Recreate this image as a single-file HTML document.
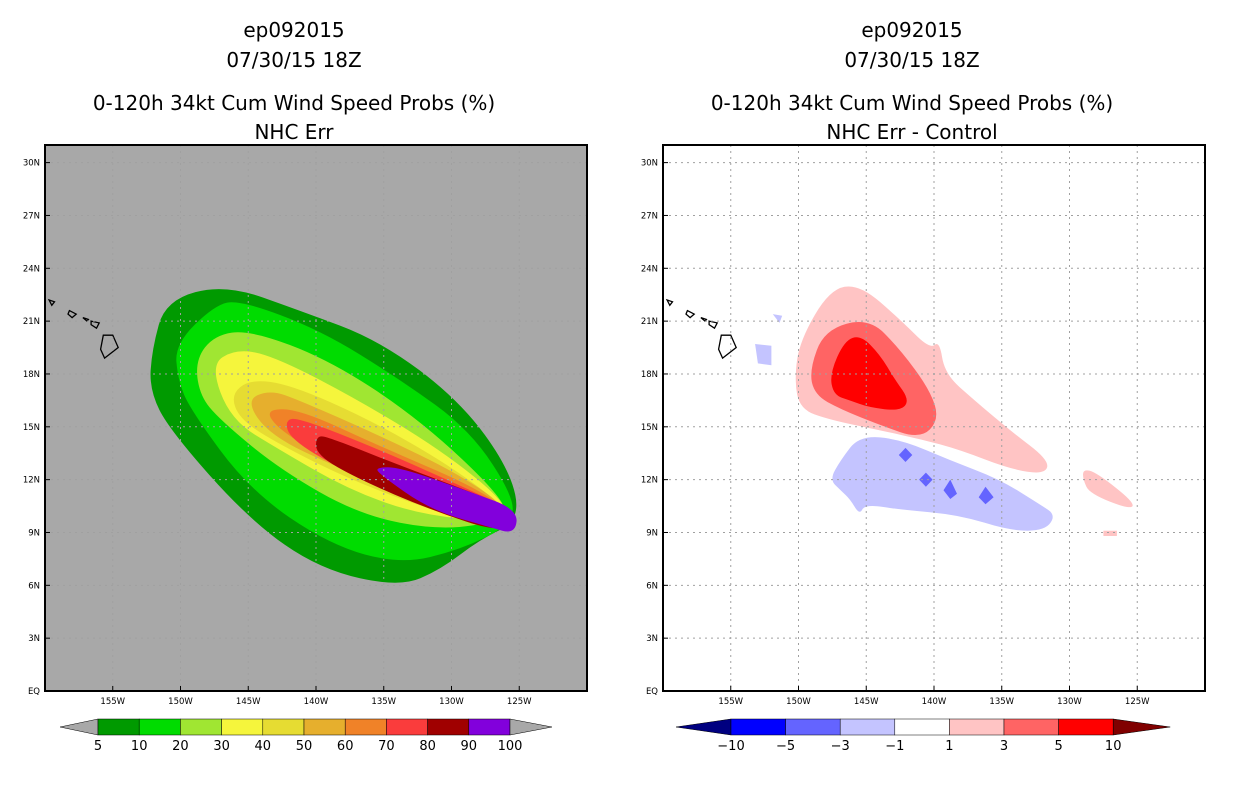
<!DOCTYPE html>
<html><head><meta charset="utf-8"><style>
body{margin:0;background:#fff;width:1236px;height:800px;overflow:hidden;font-family:"DejaVu Sans","Liberation Sans",sans-serif}
svg text{font-family:"DejaVu Sans","Liberation Sans",sans-serif}
</style></head><body>
<svg id="svg" width="1236" height="800" xmlns="http://www.w3.org/2000/svg"></svg>
<script>
const latTicks=[30,27,24,21,18,15,12,9,6,3,0];
const latLabels=["30N","27N","24N","21N","18N","15N","12N","9N","6N","3N","EQ"];
const lonTicks=[-155,-150,-145,-140,-135,-130,-125];
const lonLabels=["155W","150W","145W","140W","135W","130W","125W"];
const leftLevels=["5","10","20","30","40","50","60","70","80","90","100"];
const leftColors=["#009a00","#00dc00","#a0e632","#f5f53c","#e6dc32","#e6af2d","#f08228","#fa3c3c","#a00000","#8200dc"];
const leftContours=[
[[-152.1,19.4],[-151.1,22.2],[-146.7,23.1],[-141.2,21.6],[-135.3,19.9],[-129.4,16.5],[-125.7,12.6],[-124.9,9.7],[-127.9,8.6],[-130.8,6.9],[-133.8,5.9],[-139.7,6.9],[-144.9,9.7],[-150.8,14.8],[-152.3,17.1]],
[[-150.4,19.7],[-147.5,21.9],[-145.6,22.2],[-139.7,20.5],[-133.8,17.7],[-128.6,14.8],[-125.3,10.9],[-125.7,9.4],[-129.4,8.0],[-133.8,7.2],[-139.0,8.3],[-144.9,11.4],[-149.3,16.0],[-150.2,17.7]],
[[-148.9,18.8],[-147.5,20.2],[-144.9,20.5],[-139.0,18.8],[-132.3,15.4],[-126.1,10.9],[-126.1,9.7],[-130.8,9.1],[-136.8,10.0],[-142.7,12.6],[-147.1,15.4],[-148.6,16.8]],
[[-147.8,18.5],[-146.0,19.4],[-143.4,19.1],[-137.5,16.8],[-130.8,13.7],[-125.8,10.6],[-126.4,9.6],[-132.3,10.0],[-137.5,11.4],[-142.7,13.7],[-146.3,15.4]],
[[-146.3,16.8],[-144.9,17.7],[-141.9,17.4],[-136.0,15.4],[-130.1,12.8],[-125.8,10.3],[-127.2,9.4],[-131.6,10.3],[-137.5,12.0],[-142.7,14.0],[-145.6,15.4]],
[[-145.2,16.5],[-143.4,17.1],[-141.2,16.5],[-135.3,14.5],[-129.4,12.3],[-125.7,10.3],[-127.2,9.3],[-132.3,10.9],[-138.2,12.6],[-143.4,14.5]],
[[-143.8,16.0],[-141.2,16.0],[-135.3,13.9],[-128.6,11.7],[-125.7,10.2],[-126.8,9.3],[-132.3,10.9],[-139.0,13.1],[-142.7,14.8]],
[[-142.3,15.4],[-141.2,15.5],[-135.3,13.7],[-128.6,11.4],[-125.3,10.2],[-126.4,8.9],[-132.3,10.6],[-138.2,12.6],[-141.9,14.3]],
[[-140.0,14.5],[-139.0,14.4],[-133.8,12.8],[-127.9,11.1],[-125.1,10.2],[-126.1,8.9],[-131.6,10.3],[-136.8,12.0],[-140.0,13.4]],
[[-135.6,12.7],[-133.8,12.7],[-128.6,11.3],[-125.1,10.3],[-125.3,8.9],[-127.2,9.3],[-131.6,10.3],[-135.3,12.3]]
];
const rightLevels=["-10","-5","-3","-1","1","3","5","10"];
const rightColors=["#000080","#0000ff","#6464ff","#c4c4ff","#ffffff","#ffc4c4","#ff6464","#ff0000","#800000"];
const rightContourColors=["#ffc4c4","#ffc4c4","#ffc4c4","#ff6464","#ff0000","#c4c4ff","#c4c4ff","#c4c4ff","#6464ff","#6464ff","#6464ff","#6464ff"];
const rightContours=[
[[-149.9,19.9],[-147.7,22.8],[-145.5,23.1],[-142.5,21.1],[-140.3,19.4],[-139.6,19.9],[-139.2,18.0],[-137.0,16.5],[-134.4,14.8],[-131.5,13.1],[-131.8,12.3],[-134.4,12.6],[-138.1,13.7],[-141.0,14.3],[-144.0,14.8],[-147.7,15.4],[-149.9,16.0],[-150.3,17.7]],
[[-129.0,12.6],[-128.0,12.4],[-125.2,10.7],[-125.5,10.3],[-128.5,11.2],[-129.0,12.0]],
[[-127.5,9.1],[-126.5,9.1],[-126.5,8.8],[-127.5,8.8]],
[[-149.2,18.2],[-148.1,20.5],[-144.8,21.2],[-142.5,19.4],[-140.3,17.1],[-139.6,15.4],[-141.0,14.3],[-144.0,15.1],[-146.9,16.0],[-148.8,16.8]],
[[-147.7,18.0],[-146.6,19.9],[-145.4,20.2],[-144.0,19.1],[-142.9,17.7],[-141.8,16.5],[-142.5,15.9],[-144.8,16.1],[-146.2,16.5],[-147.4,16.8]],
[[-147.7,12.0],[-146.9,13.1],[-145.5,14.5],[-142.5,14.3],[-138.8,13.1],[-135.1,12.0],[-132.2,10.6],[-131.0,10.0],[-131.8,9.1],[-134.4,9.1],[-138.1,10.0],[-142.5,10.3],[-145.1,10.6],[-145.5,10.0],[-146.2,10.9],[-146.9,11.4]],
[[-153.2,19.7],[-152.0,19.6],[-152.0,18.5],[-153.0,18.6]],
[[-151.9,21.4],[-151.2,21.3],[-151.4,20.9]],
[[-142.6,13.4],[-142.1,13.8],[-141.6,13.4],[-142.1,13.0]],
[[-141.1,12.0],[-140.6,12.4],[-140.1,12.0],[-140.6,11.6]],
[[-139.3,11.4],[-138.8,12.0],[-138.3,11.2],[-138.8,10.9]],
[[-136.7,11.0],[-136.2,11.6],[-135.6,11.0],[-136.2,10.6]]
];
const islands=[
[[-155.0,20.2],[-154.6,19.5],[-155.6,18.9],[-155.9,19.4],[-155.7,20.2]],
[[-156.6,21.0],[-156.0,20.9],[-156.2,20.6],[-156.6,20.8]],
[[-158.2,21.6],[-157.7,21.4],[-158.0,21.2],[-158.3,21.4]],
[[-159.7,22.2],[-159.3,22.1],[-159.5,21.9]],
[[-157.2,21.2],[-156.8,21.1],[-156.9,21.0]]
];
const NS="http://www.w3.org/2000/svg";
const svg=document.getElementById('svg');
function el(t,a,p){const e=document.createElementNS(NS,t);for(const k in a)e.setAttribute(k,a[k]);(p||svg).appendChild(e);return e;}
function tx(x,y,s,size,anchor,name){const e=el('text',{x:x,y:y,'font-size':size,'text-anchor':anchor||'middle',fill:'#000'});e.textContent=s;


return e;}
function smooth(pts){const n=pts.length;if(n<5){return 'M'+pts.map(p=>p[0].toFixed(1)+','+p[1].toFixed(1)).join('L')+'Z';}
 const mid=(a,b)=>[(a[0]+b[0])/2,(a[1]+b[1])/2];
 let m0=mid(pts[n-1],pts[0]);let d='M'+m0[0].toFixed(1)+','+m0[1].toFixed(1);
 for(let i=0;i<n;i++){const m=mid(pts[i],pts[(i+1)%n]);d+='Q'+pts[i][0].toFixed(1)+','+pts[i][1].toFixed(1)+' '+m[0].toFixed(1)+','+m[1].toFixed(1);}
 return d+'Z';}
const X0=45,W=542,Y0=145,Y1=691;
function mkPanel(off,bg,polys,colors,titleB,panelName){
 const g=el('g',{});
 
 
 const xs=lon=>off+X0+(lon+160)/40*W;
 const ys=lat=>Y1-lat/31*(Y1-Y0);
 const bgR=el('rect',{x:off+X0,y:Y0,width:W,height:Y1-Y0,fill:bg},g);
 
 
 polys.forEach((p,i)=>{const pl=el('path',{d:smooth(p.map(q=>[xs(q[0]),ys(q[1])])),fill:colors[i]},g);
  
  });
 islands.forEach(p=>{const pl=el('polygon',{points:p.map(q=>xs(q[0]).toFixed(1)+','+ys(q[1]).toFixed(1)).join(' '),fill:'none',stroke:'#000','stroke-width':1.3},g);
  
  });
 lonTicks.forEach((l,i)=>{const x=xs(l);
  const ln=el('line',{x1:x,x2:x,y1:Y0,y2:Y1,stroke:'#a0a0a0','stroke-dasharray':'2,4'},g);
  
  
  el('line',{x1:x,x2:x,y1:Y1,y2:Y1-5,stroke:'#000'},g);
  tx(x,Y1+13,lonLabels[i],8.5,'middle','lon-tick-label');});
 latTicks.forEach((l,i)=>{const y=ys(l);
  const ln=el('line',{x1:off+X0,x2:off+X0+W,y1:y,y2:y,stroke:'#a0a0a0','stroke-dasharray':'2,4'},g);
  
  
  el('line',{x1:off+X0,x2:off+X0+5,y1:y,y2:y,stroke:'#000'},g);
  tx(off+X0-5,y+3,latLabels[i],8.5,'end','lat-tick-label');});
 const fr=el('rect',{x:off+X0,y:Y0,width:W,height:Y1-Y0,fill:'none',stroke:'#000','stroke-width':2},g);
 
 
 const cx=off+X0+W/2-22;
 tx(cx,37,'ep092015',20,'middle','storm-id-title');
 tx(cx,67,'07/30/15 18Z',20,'middle','date-title');
 tx(cx,110,'0-120h 34kt Cum Wind Speed Probs (%)',20,'middle','product-title');
 tx(cx,139,titleB,20,'middle','subtitle');
}
mkPanel(0,'#a8a8a8',leftContours,leftColors,'NHC Err','left-panel');
mkPanel(618,'#ffffff',rightContours,rightContourColors,'NHC Err - Control','right-panel');
(function(){const x0=98,w=41.2,y=719,h=16;
 const t1=el('polygon',{points:`60,727 ${x0},${y} ${x0},${y+h}`,fill:'#a8a8a8',stroke:'#000','stroke-width':0.5});
 
 leftColors.forEach((c,i)=>{const r=el('rect',{x:x0+i*w,y:y,width:w,height:h,fill:c,stroke:'#000','stroke-width':0.5});
  });
 const xe=x0+leftColors.length*w;
 const t2=el('polygon',{points:`${xe},${y} ${xe+42},727 ${xe},${y+h}`,fill:'#a8a8a8',stroke:'#000','stroke-width':0.5});
 
 leftLevels.forEach((s,i)=>tx(x0+i*w,750,s,13,'middle','colorbar-label'));
})();
(function(){const x0=731,w=54.6,y=719,h=16;
 const t1=el('polygon',{points:`676,727 ${x0},${y} ${x0},${y+h}`,fill:rightColors[0],stroke:'#000','stroke-width':0.5});
 
 for(let i=1;i<rightColors.length-1;i++){const r=el('rect',{x:x0+(i-1)*w,y:y,width:w,height:h,fill:rightColors[i],stroke:'#000','stroke-width':0.5});
  }
 const xe=x0+(rightColors.length-2)*w;
 const t2=el('polygon',{points:`${xe},${y} ${xe+57},727 ${xe},${y+h}`,fill:rightColors[rightColors.length-1],stroke:'#000','stroke-width':0.5});
 
 rightLevels.forEach((s,i)=>tx(x0+i*w,750,s.replace('-','\u2212'),13,'middle','colorbar-label'));
})();
</script>
</body></html>
